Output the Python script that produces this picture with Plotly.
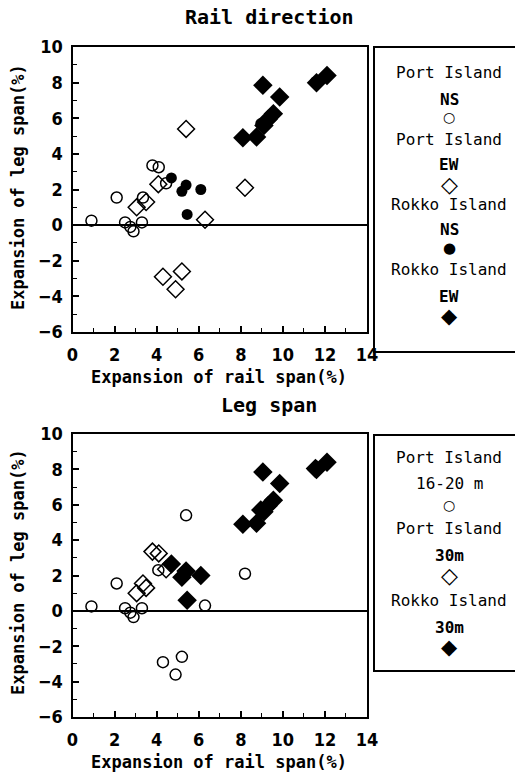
import plotly.graph_objects as go

# ---------------- data ----------------
# Top panel: "Rail direction"
pi_ns_x = [0.9, 2.1, 2.5, 2.75, 2.9, 3.3, 3.35, 3.8, 4.1, 4.45]
pi_ns_y = [0.25, 1.55, 0.15, -0.1, -0.35, 0.15, 1.55, 3.35, 3.25, 2.35]
pi_ew_x = [3.05, 3.5, 4.08, 5.4, 8.2, 6.3, 4.3, 5.2, 4.9]
pi_ew_y = [1.0, 1.3, 2.3, 5.4, 2.1, 0.3, -2.9, -2.6, -3.6]
ri_ns_x = [4.7, 5.4, 5.2, 6.1, 5.45, 8.95, 11.55]
ri_ns_y = [2.65, 2.25, 1.9, 2.0, 0.6, 5.7, 8.05]
ri_ew_x = [9.05, 9.85, 8.1, 8.75, 9.3, 9.55, 9.1, 12.1, 11.6]
ri_ew_y = [7.85, 7.2, 4.9, 4.95, 5.95, 6.25, 5.6, 8.4, 8.0]

# Bottom panel: "Leg span"
pi_1620_x = [0.9, 2.1, 2.5, 2.75, 2.9, 3.3, 4.08, 5.4, 8.2, 6.3, 4.3, 5.2, 4.9]
pi_1620_y = [0.25, 1.55, 0.15, -0.1, -0.35, 0.15, 2.3, 5.4, 2.1, 0.3, -2.9, -2.6, -3.6]
pi_30_x = [3.05, 3.35, 3.5, 3.8, 4.1, 4.45]
pi_30_y = [1.0, 1.55, 1.3, 3.35, 3.25, 2.35]
ri_30_x = [4.7, 5.4, 5.2, 6.1, 5.45, 8.95, 11.55, 9.05, 9.85, 8.1, 8.75, 9.3, 9.55, 9.1, 12.1, 11.6]
ri_30_y = [2.65, 2.25, 1.9, 2.0, 0.6, 5.7, 8.05, 7.85, 7.2, 4.9, 4.95, 5.95, 6.25, 5.6, 8.4, 8.0]

x_ticks = [0, 2, 4, 6, 8, 10, 12, 14]
y_ticks = [-6, -4, -2, 0, 2, 4, 6, 8, 10]

titles = ["Rail direction", "Leg span"]
x_title = "Expansion of rail span(%)"
y_title = "Expansion of leg span(%)"
legend_top = [("Port Island", "NS", "○"), ("Port Island", "EW", "◇"),
              ("Rokko Island", "NS", "●"), ("Rokko Island", "EW", "◆")]
legend_bot = [("Port Island", "16-20 m", "○"), ("Port Island", "30m", "◇"),
              ("Rokko Island", "30m", "◆")]

# ---------------- layout geometry ----------------
W, H = 515, 774
MONO = "DejaVu Sans Mono"
NARROW = "DejaVu Sans Condensed, Liberation Sans"

def px_x(p):
    return p / W

def px_y(p):
    return 1 - p / H

fig = go.Figure()

open_circle = dict(symbol="circle-open", size=11, color="black", line=dict(width=1.5, color="black"))
open_diamond = dict(symbol="diamond-open", size=13, color="black", line=dict(width=1.5, color="black"))
fill_circle = dict(symbol="circle", size=11, color="black", line=dict(width=0))
fill_diamond = dict(symbol="diamond", size=15, color="black", line=dict(width=0))

def add(xs, ys, marker, xa, ya):
    fig.add_trace(go.Scatter(x=xs, y=ys, mode="markers", marker=marker,
                             xaxis=xa, yaxis=ya, showlegend=False, hoverinfo="skip"))

add(pi_ns_x, pi_ns_y, open_circle, "x", "y")
add(pi_ew_x, pi_ew_y, open_diamond, "x", "y")
add(ri_ns_x, ri_ns_y, fill_circle, "x", "y")
add(ri_ew_x, ri_ew_y, fill_diamond, "x", "y")

add(pi_1620_x, pi_1620_y, open_circle, "x2", "y2")
add(pi_30_x, pi_30_y, open_diamond, "x2", "y2")
add(ri_30_x, ri_30_y, fill_diamond, "x2", "y2")

tickfont = dict(family=NARROW, size=18, color="black", weight="bold")

xdom = [px_x(72.5), px_x(367)]
top_dom = [px_y(332), px_y(47)]
bot_dom = [px_y(717), px_y(434)]

def xaxis(dom, anchor):
    return dict(domain=dom, anchor=anchor, range=[0, 14], tickvals=x_ticks,
                ticks="inside", ticklen=6, tickwidth=1.5, tickcolor="black",
                minor=dict(dtick=1, ticks="inside", ticklen=4, tickcolor="black", tickwidth=1),
                showline=True, linewidth=2, linecolor="black", mirror=True,
                showgrid=False, zeroline=False, tickfont=tickfont,
                ticklabelstandoff=5, automargin=False)

def yaxis(dom, anchor):
    return dict(domain=dom, anchor=anchor, range=[-6, 10], tickvals=y_ticks,
                ticks="inside", ticklen=6, tickwidth=1.5, tickcolor="black",
                minor=dict(dtick=1, ticks="inside", ticklen=4, tickcolor="black", tickwidth=1),
                showline=True, linewidth=2, linecolor="black", mirror=True,
                showgrid=False, zeroline=True, zerolinecolor="black", zerolinewidth=2,
                tickfont=tickfont, ticklabelstandoff=4, automargin=False)

fig.update_layout(
    width=W, height=H, margin=dict(l=0, r=0, t=0, b=0, pad=0, autoexpand=False),
    paper_bgcolor="white", plot_bgcolor="white",
    xaxis=xaxis(xdom, "y"), yaxis=yaxis(top_dom, "x"),
    xaxis2=xaxis(xdom, "y2"), yaxis2=yaxis(bot_dom, "x2"),
)

annotations = []
# panel titles
for t, yc in zip(titles, [17, 405]):
    annotations.append(dict(text=t, x=px_x(269), y=px_y(yc), xref="paper", yref="paper",
                            showarrow=False, xanchor="center", yanchor="middle",
                            font=dict(family=MONO, size=20, color="black", weight="bold")))
# axis titles
for yc in [377, 762]:
    annotations.append(dict(text=x_title, x=px_x(219), y=px_y(yc), xref="paper", yref="paper",
                            showarrow=False, xanchor="center", yanchor="middle",
                            font=dict(family=MONO, size=17, color="black", weight="bold")))
for yc in [187, 572]:
    annotations.append(dict(text=y_title, x=px_x(18), y=px_y(yc), xref="paper", yref="paper",
                            showarrow=False, xanchor="center", yanchor="middle", textangle=-90,
                            font=dict(family=MONO, size=17, color="black", weight="bold")))

shapes = []
LX = 449

def legend(items, box_top, box_bottom, ys):
    shapes.append(dict(type="rect", xref="paper", yref="paper",
                       x0=px_x(374), x1=px_x(530), y0=px_y(box_bottom), y1=px_y(box_top),
                       line=dict(color="black", width=2), fillcolor="rgba(0,0,0,0)"))
    for (l1, l2, sym), (y1, y2, y3) in zip(items, ys):
        annotations.append(dict(text=l1, x=px_x(LX), y=px_y(y1), xref="paper", yref="paper",
                                showarrow=False, xanchor="center", yanchor="middle",
                                font=dict(family=MONO, size=16, color="black")))
        bold = "bold" if l2 != "16-20 m" else "normal"
        annotations.append(dict(text=l2, x=px_x(LX), y=px_y(y2), xref="paper", yref="paper",
                                showarrow=False, xanchor="center", yanchor="middle",
                                font=dict(family=MONO, size=16, color="black", weight=bold)))
        size = {"○": 14, "●": 15, "◇": 22, "◆": 21}[sym]
        annotations.append(dict(text=sym, x=px_x(LX), y=px_y(y3), xref="paper", yref="paper",
                                showarrow=False, xanchor="center", yanchor="middle",
                                font=dict(family="DejaVu Sans", size=size, color="black")))

legend(legend_top, 47, 352,
       [(73, 99, 117), (139, 164, 184), (204, 230, 248), (269, 296, 316)])
legend(legend_bot, 435, 671,
       [(457, 483, 505), (528, 555, 575), (600, 627, 647)])

fig.update_layout(annotations=annotations, shapes=shapes)

fig.write_html("out.html")
